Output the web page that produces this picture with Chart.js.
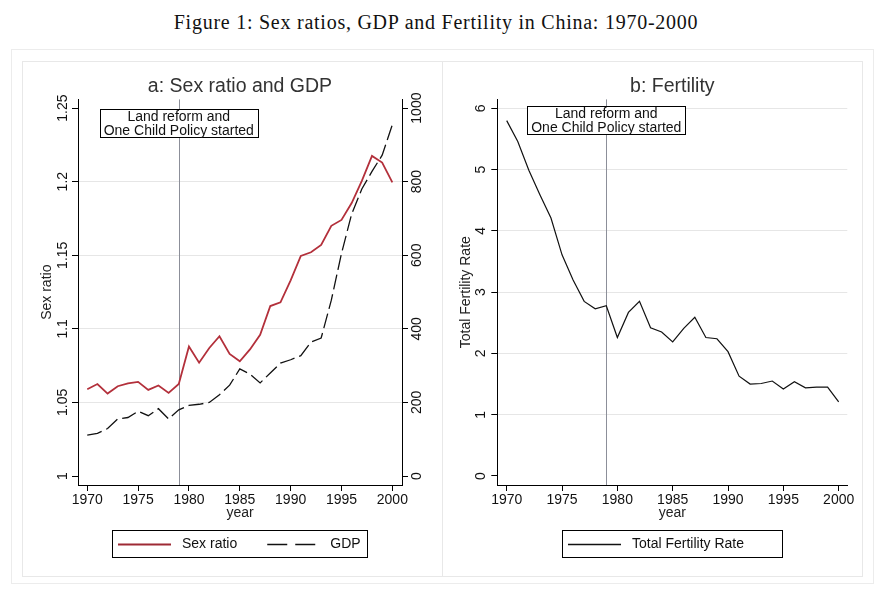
<!DOCTYPE html>
<html lang="en">
<head>
<meta charset="UTF-8">
<title>Figure 1: Sex ratios, GDP and Fertility in China</title>
<style>
  body { margin: 0; background: #fff; width: 884px; height: 595px; overflow: hidden; position: relative; }
  .fig-title {
    position: absolute; left: 0; top: 12px; width: 872px; text-align: center;
    font-family: "Liberation Serif", "Times New Roman", serif; font-size: 20px;
    letter-spacing: 0.75px; line-height: 20px; color: #111;
  }
  .outer { position: absolute; left: 11px; top: 49px; width: 861px; height: 533px; border: 1px solid #ececec; }
  .panel { position: absolute; top: 61px; height: 514px; border: 1px solid #e8e8e8; }
  #pa { left: 22px; width: 419px; }
  #pb { left: 442px; width: 419px; }
  canvas { position: absolute; top: 62px; }
  #chartA { left: 23px; }
  #chartB { left: 443px; }
</style>
</head>
<body>
<div class="fig-title">Figure 1: Sex ratios, GDP and Fertility in China: 1970-2000</div>
<div class="outer"></div>
<div class="panel" id="pa"></div>
<div class="panel" id="pb"></div>
<canvas id="chartA" width="419" height="514"></canvas>
<canvas id="chartB" width="418" height="514"></canvas>

<script src="https://cdn.jsdelivr.net/npm/chart.js@4.4.1/dist/chart.umd.min.js"></script>
<script>
// data
const years = [1970, 1971, 1972, 1973, 1974, 1975, 1976, 1977, 1978, 1979,
               1980, 1981, 1982, 1983, 1984, 1985, 1986, 1987, 1988, 1989,
               1990, 1991, 1992, 1993, 1994, 1995, 1996, 1997, 1998, 1999, 2000];
const sexRatio = [1.059, 1.0625, 1.056, 1.061, 1.063, 1.064, 1.0585, 1.0615, 1.0565, 1.0625,
                  1.088, 1.077, 1.087, 1.095, 1.083, 1.078, 1.086, 1.096, 1.1155, 1.118,
                  1.133, 1.1495, 1.152, 1.157, 1.170, 1.174, 1.1855, 1.2005, 1.2175, 1.213, 1.1995];
const gdp = [111, 116, 129, 155, 159, 176, 164, 183, 155, 180,
             192, 195, 200, 221, 247, 291, 277, 253, 280, 307,
             316, 327, 364, 375, 478, 605, 712, 780, 828, 872, 955];
const fertility = [5.80, 5.46, 4.99, 4.59, 4.21, 3.61, 3.20, 2.85, 2.73, 2.78,
                   2.26, 2.67, 2.85, 2.42, 2.35, 2.19, 2.41, 2.59, 2.26, 2.24,
                   2.03, 1.63, 1.50, 1.51, 1.55, 1.42, 1.54, 1.44, 1.45, 1.45, 1.21];

const yearTicks = [1970, 1975, 1980, 1985, 1990, 1995, 2000];
const yearTickLabels = ['1970', '1975', '1980', '1985', '1990', '1995', '2000'];
const sexTicks = [1, 1.05, 1.1, 1.15, 1.2, 1.25];
const sexTickLabels = ['1', '1.05', '1.1', '1.15', '1.2', '1.25'];
const gdpTicks = [0, 200, 400, 600, 800, 1000];
const gdpTickLabels = ['0', '200', '400', '600', '800', '1000'];
const tfrTicks = [0, 1, 2, 3, 4, 5, 6];
const tfrTickLabels = ['0', '1', '2', '3', '4', '5', '6'];

const policyYear = 1979;
const noteLines = ['Land reform and', 'One Child Policy started'];

const FONT = '"Liberation Sans", Arial, sans-serif';
Chart.defaults.font.family = FONT;
Chart.defaults.color = '#222';
Chart.defaults.animation = false;

const pts = vals => years.map((y, i) => ({x: y, y: vals[i]}));
const setTicks = list => scale => { scale.ticks = list.map(v => ({value: v})); };

// vertical line at policy year
const vline = {
  id: 'vline',
  beforeDatasetsDraw(chart) {
    const {ctx, chartArea} = chart;
    const x = Math.round(chart.scales.x.getPixelForValue(policyYear)) + 0.5;
    ctx.save();
    ctx.strokeStyle = '#8c8f99';
    ctx.lineWidth = 1;
    ctx.beginPath();
    ctx.moveTo(x, chartArea.top);
    ctx.lineTo(x, chartArea.bottom);
    ctx.stroke();
    ctx.restore();
  }
};

// boxed note centred on the policy line
const noteBox = {
  id: 'noteBox',
  afterDatasetsDraw(chart, args, o) {
    const {ctx} = chart;
    const x = chart.scales.x.getPixelForValue(policyYear);
    const y = chart.scales[o.axis].getPixelForValue(o.top);
    const l = Math.round(x - o.w / 2), t = Math.round(y);
    ctx.save();
    ctx.fillStyle = '#fff';
    ctx.fillRect(l, t, o.w, o.h);
    ctx.strokeStyle = '#000';
    ctx.lineWidth = 1;
    ctx.strokeRect(l + 0.5, t + 0.5, o.w, o.h);
    ctx.fillStyle = '#111';
    ctx.font = '14px ' + FONT;
    ctx.textAlign = 'center';
    ctx.textBaseline = 'middle';
    noteLines.forEach((s, i) => ctx.fillText(s, x, t + 8.5 + i * 13.4));
    ctx.restore();
  }
};

// stata-style legend in a box under the x axis
const boxLegend = {
  id: 'boxLegend',
  afterDraw(chart, args, o) {
    const {ctx, chartArea: ca} = chart;
    const left = Math.round((ca.left + ca.right) / 2 - o.width / 2 + o.dx);
    const top = Math.round(ca.bottom + 45);
    ctx.save();
    ctx.strokeStyle = '#000';
    ctx.lineWidth = 1;
    ctx.strokeRect(left + 0.5, top + 0.5, o.width, 27);
    ctx.font = '14px ' + FONT;
    ctx.textBaseline = 'middle';
    ctx.fillStyle = '#111';
    let x = left + 6;
    const cy = top + 14;
    chart.data.datasets.forEach((ds, i) => {
      const it = o.items[i];
      ctx.strokeStyle = it.color || ds.borderColor;
      ctx.lineWidth = it.width || ds.borderWidth;
      ctx.setLineDash(it.dash || []);
      ctx.beginPath();
      ctx.moveTo(x, cy + 0.5);
      ctx.lineTo(x + it.sample, cy + 0.5);
      ctx.stroke();
      ctx.setLineDash([]);
      x += it.sample + it.gap;
      ctx.fillText(ds.label, x, cy);
      x += ctx.measureText(ds.label).width + (it.after || 0);
    });
    ctx.restore();
  }
};

const xAxis = {
  type: 'linear',
  min: 1969.09,
  max: 2000.95,
  afterBuildTicks: setTicks(yearTicks),
  afterFit: s => { s.height = 40; },
  ticks: {
    autoSkip: false, maxRotation: 0, padding: 1,
    font: {size: 14}, color: '#111',
    callback: (v, i) => yearTickLabels[i]
  },
  grid: {drawOnChartArea: false, tickLength: 6, tickColor: '#000'},
  border: {color: '#000', width: 1},
  title: {display: true, text: 'year', font: {size: 14}, color: '#222', padding: {top: 0, bottom: 3.6}}
};

const panelTitle = text => ({
  display: true, text, fullSize: false,
  font: {size: 19.5, weight: 'normal'}, color: '#333',
  padding: {top: 13, bottom: 1}
});

new Chart(document.getElementById('chartA'), {
  type: 'line',
  data: {
    datasets: [
      {label: 'Sex ratio', data: pts(sexRatio), yAxisID: 'y',
       borderColor: '#b3303b', borderWidth: 1.8, pointRadius: 0, tension: 0},
      {label: 'GDP', data: pts(gdp), yAxisID: 'y2',
       borderColor: '#111', borderWidth: 1.3, borderDash: [15, 5], pointRadius: 0, tension: 0}
    ]
  },
  options: {
    responsive: false,
    layout: {padding: {left: 0, right: 0, top: 0, bottom: 51}},
    scales: {
      x: xAxis,
      y: {
        type: 'linear', position: 'left', min: 0.99389, max: 1.25591,
        afterBuildTicks: setTicks(sexTicks),
        afterFit: s => { s.width = 55; },
        ticks: {
          autoSkip: false, minRotation: 90, maxRotation: 90, crossAlign: 'center', padding: -4.6,
          font: {size: 14}, color: '#111',
          callback: (v, i) => sexTickLabels[i]
        },
        grid: {
          tickLength: 6, tickColor: '#000',
          color: c => (c.tick && (c.tick.value === 1 || c.tick.value === 1.25)) ? 'rgba(0,0,0,0)' : '#e6e6e6'
        },
        border: {color: '#000', width: 1},
        title: {display: true, text: 'Sex ratio', font: {size: 14}, color: '#222', padding: {top: 15.3, bottom: 0}}
      },
      y2: {
        type: 'linear', position: 'right', min: -24.44, max: 1023.64,
        afterBuildTicks: setTicks(gdpTicks),
        afterFit: s => { s.width = 40; },
        ticks: {
          autoSkip: false, minRotation: 90, maxRotation: 90, crossAlign: 'center', padding: -6.5,
          font: {size: 14}, color: '#111',
          callback: (v, i) => gdpTickLabels[i]
        },
        grid: {drawOnChartArea: false, tickLength: 6, tickColor: '#000'},
        border: {color: '#000', width: 1}
      }
    },
    plugins: {
      legend: {display: false},
      tooltip: {enabled: false},
      title: panelTitle('a: Sex ratio and GDP'),
      noteBox: {axis: 'y', top: 1.2493, w: 158, h: 28},
      boxLegend: {width: 255, dx: -0.5, items: [
        {sample: 53, gap: 11, after: 30, color: '#9e2a35', width: 2.2},
        {sample: 48, gap: 15, dash: [20, 8]}
      ]}
    }
  },
  plugins: [vline, noteBox, boxLegend]
});

new Chart(document.getElementById('chartB'), {
  type: 'line',
  data: {
    datasets: [
      {label: 'Total Fertility Rate', data: pts(fertility), yAxisID: 'y',
       borderColor: '#111', borderWidth: 1.2, pointRadius: 0, tension: 0}
    ]
  },
  options: {
    responsive: false,
    layout: {padding: {left: 0, right: 13.7, top: 0, bottom: 51}},
    scales: {
      x: Object.assign({}, xAxis, {min: 1969.15, max: 2000.78}),
      y: {
        type: 'linear', position: 'left', min: -0.1469, max: 6.1469,
        afterBuildTicks: setTicks(tfrTicks),
        afterFit: s => { s.width = 54.3; },
        ticks: {
          autoSkip: false, minRotation: 90, maxRotation: 90, crossAlign: 'center', padding: 6.4,
          font: {size: 14}, color: '#111',
          callback: (v, i) => tfrTickLabels[i]
        },
        grid: {
          tickLength: 6, tickColor: '#000',
          color: c => (c.tick && c.tick.value === 0) ? 'rgba(0,0,0,0)' : '#e6e6e6'
        },
        border: {color: '#000', width: 1},
        title: {display: true, text: 'Total Fertility Rate', font: {size: 14}, color: '#222', padding: {top: 14.6, bottom: 0}}
      }
    },
    plugins: {
      legend: {display: false},
      tooltip: {enabled: false},
      title: panelTitle('b: Fertility'),
      noteBox: {axis: 'y', top: 6.04, w: 158, h: 28},
      boxLegend: {width: 220, dx: -0.3, items: [
        {sample: 53, gap: 11, width: 1.4}
      ]}
    }
  },
  plugins: [vline, noteBox, boxLegend]
});
</script>
</body>
</html>
